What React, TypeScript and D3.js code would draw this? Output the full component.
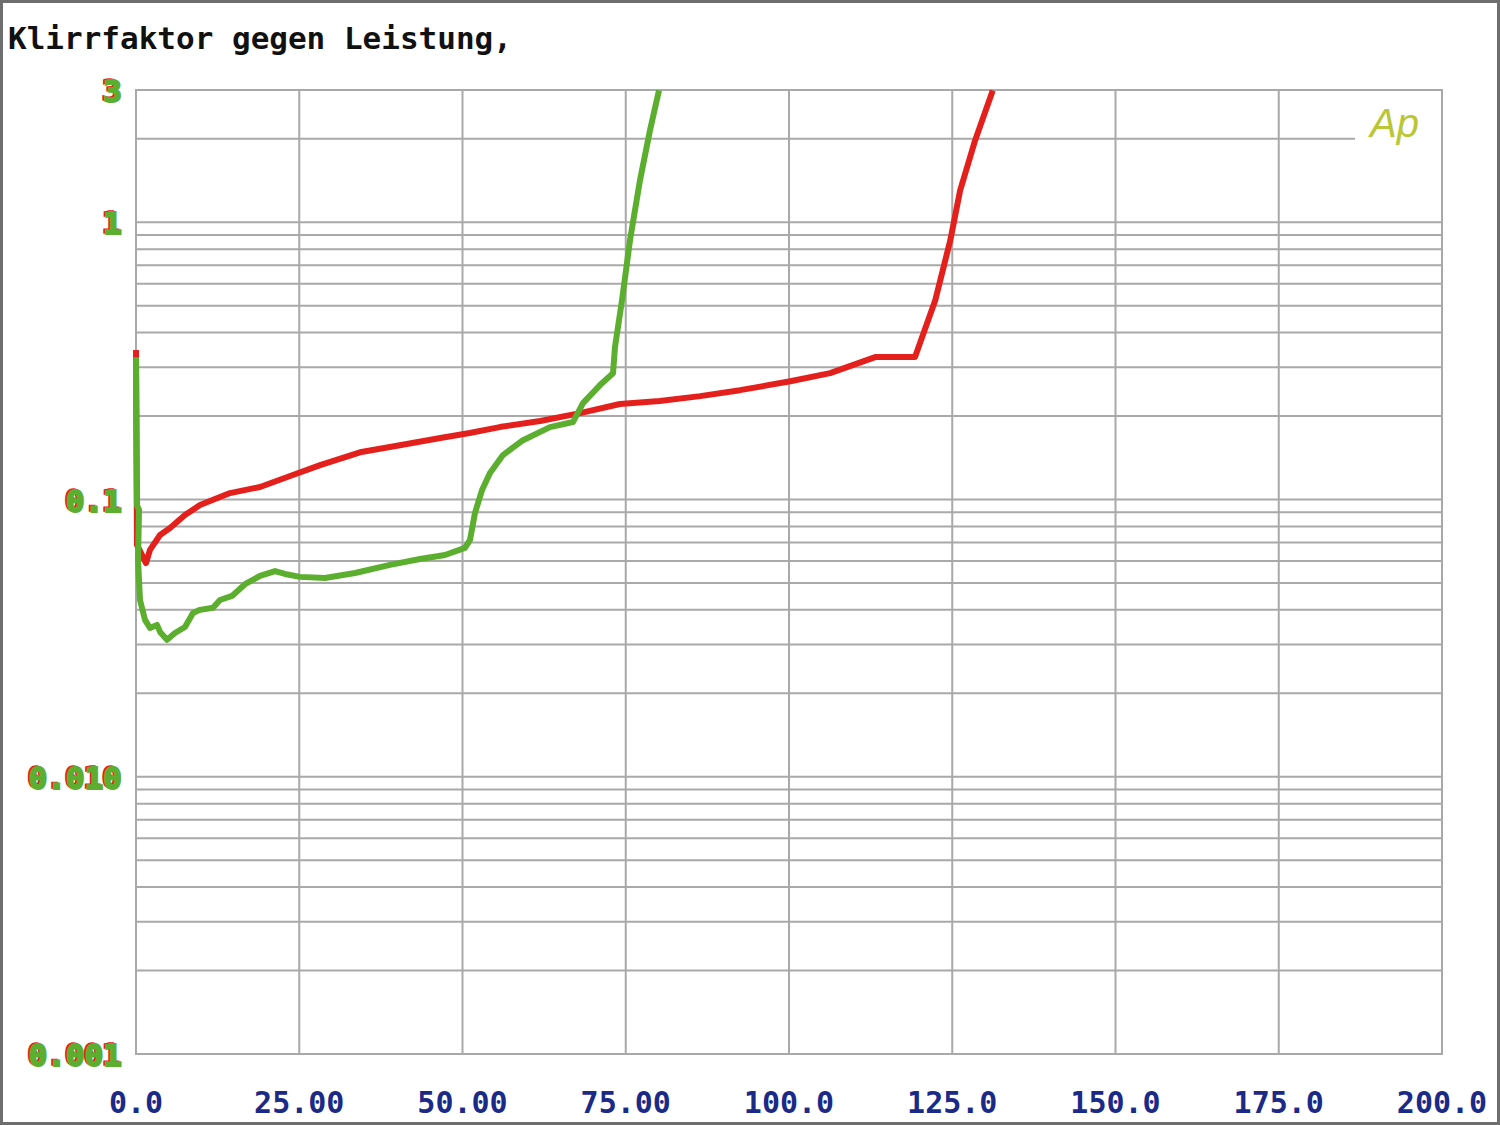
import React from "react";
import * as d3 from "d3";

const title = "Klirrfaktor gegen Leistung,";
const xTicks = [0, 25, 50, 75, 100, 125, 150, 175, 200];
const xTickLabels = ["0.0", "25.00", "50.00", "75.00", "100.0", "125.0", "150.0", "175.0", "200.0"];
const yTicks = [3, 1, 0.1, 0.01, 0.001];
const yTickLabels = ["3", "1", "0.1", "0.010", "0.001"];

const redX = [0, 0.15, 1.53, 2.14, 3.68, 5.21, 7.5, 9.8, 14.4, 19.0, 23.6, 28.2, 34.3, 40.4, 46.6, 51.1, 55.7, 61.9, 68.0, 74.1, 80.2, 86.4, 92.5, 100.2, 106.3, 113.2, 119.3, 122.4, 124.7, 126.2, 128.5, 131.2];
const redY = [0.346, 0.0686, 0.059, 0.0658, 0.0745, 0.0789, 0.0879, 0.0955, 0.1055, 0.111, 0.1216, 0.133, 0.148, 0.157, 0.1667, 0.1737, 0.1825, 0.192, 0.205, 0.221, 0.2265, 0.236, 0.248, 0.267, 0.2856, 0.3264, 0.3264, 0.5236, 0.861, 1.3, 1.974, 2.99];

const greenX = [0, 0.15, 0.46, 0.31, 0.61, 1.38, 2.14, 3.22, 3.68, 4.75, 5.97, 7.5, 8.73, 9.8, 11.79, 12.86, 14.7, 16.69, 18.99, 21.29, 22.82, 25.11, 28.94, 33.54, 38.9, 43.49, 47.32, 50.38, 51.15, 51.91, 52.99, 54.21, 56.2, 59.26, 63.4, 66.92, 68.45, 71.06, 73.05, 73.35, 74.43, 75.65, 77.18, 78.71, 80.09];
const greenY = [0.326, 0.0955, 0.0917, 0.0605, 0.0434, 0.0368, 0.0344, 0.0353, 0.0333, 0.0312, 0.033, 0.0347, 0.039, 0.04, 0.0407, 0.0434, 0.0449, 0.0495, 0.053, 0.0552, 0.0539, 0.0526, 0.0521, 0.0543, 0.0581, 0.061, 0.0631, 0.0669, 0.0715, 0.0894, 0.1082, 0.1246, 0.1446, 0.1637, 0.1825, 0.1903, 0.2228, 0.2587, 0.2856, 0.3546, 0.5236, 0.861, 1.417, 2.146, 2.99];

const W = 1500, H = 1125;
const left = 136, right = 1442, top = 90, bottom = 1054;

export default function App() {
  const x = d3.scaleLinear().domain([0, 200]).range([left, right]);
  const y = d3.scaleLog().domain([0.001, 3]).range([bottom, top]);

  const gridVals: number[] = [];
  [0.001, 0.01, 0.1, 1].forEach((dec) => {
    for (let k = 1; k <= 9; k++) {
      const v = dec * k;
      if (v <= 3.0001) gridVals.push(v);
    }
  });
  gridVals.push(3);

  const line = d3
    .line<[number, number]>()
    .x((d) => x(d[0]))
    .y((d) => y(d[1]));

  const redPts: [number, number][] = redX.map((v, i) => [v, redY[i]]);
  const greenPts: [number, number][] = greenX.map((v, i) => [v, greenY[i]]);

  const gridColor = "#a9a9a9";
  const mono = "'DejaVu Sans Mono', 'Liberation Mono', monospace";

  return (
    <svg width={W} height={H} style={{ position: "absolute", left: 0, top: 0, background: "#fff" }}>
      <rect x={1.5} y={1.5} width={W - 3} height={H - 3} fill="#fff" stroke="#6e6e6e" strokeWidth={3} />
      <text x={8} y={49} fontFamily={mono} fontWeight="bold" fontSize={31} fill="#111">
        {title}
      </text>
      {gridVals.map((v, i) => (
        <line
          key={"h" + i}
          x1={left}
          x2={Math.abs(v - 2) < 1e-6 ? 1355 : right}
          y1={y(v)}
          y2={y(v)}
          stroke={gridColor}
          strokeWidth={2}
        />
      ))}
      {xTicks.map((t, i) => (
        <line key={"v" + i} x1={x(t)} x2={x(t)} y1={top} y2={bottom} stroke={gridColor} strokeWidth={2} />
      ))}
      <rect x={left} y={top} width={right - left} height={bottom - top} fill="none" stroke={gridColor} strokeWidth={2} />
      <text x={1370} y={137} fontFamily="'Liberation Sans', Arial, sans-serif" fontStyle="italic" fontSize={40} fill="#b9c636">
        Ap
      </text>
      <path d={line(redPts) || ""} fill="none" stroke="#e4201c" strokeWidth={6} strokeLinejoin="round" />
      <path d={line(greenPts) || ""} fill="none" stroke="#5cae2f" strokeWidth={6} strokeLinejoin="round" />
      {yTicks.map((t, i) => (
        <g key={"yl" + i}>
          <text
            x={120}
            y={y(t) + 11}
            textAnchor="end"
            fontFamily={mono}
            fontWeight="bold"
            fontSize={31}
            fill="#e4201c"
            stroke="#e4201c"
            strokeWidth={1.5}
          >
            {yTickLabels[i]}
          </text>
          <text
            x={122}
            y={y(t) + 12}
            textAnchor="end"
            fontFamily={mono}
            fontWeight="bold"
            fontSize={31}
            fill="#5cae2f"
            stroke="#5cae2f"
            strokeWidth={2}
          >
            {yTickLabels[i]}
          </text>
        </g>
      ))}
      {xTicks.map((t, i) => (
        <text
          key={"xl" + i}
          x={x(t)}
          y={1113}
          textAnchor="middle"
          fontFamily={mono}
          fontWeight="bold"
          fontSize={30}
          fill="#1b2a87"
        >
          {xTickLabels[i]}
        </text>
      ))}
    </svg>
  );
}
